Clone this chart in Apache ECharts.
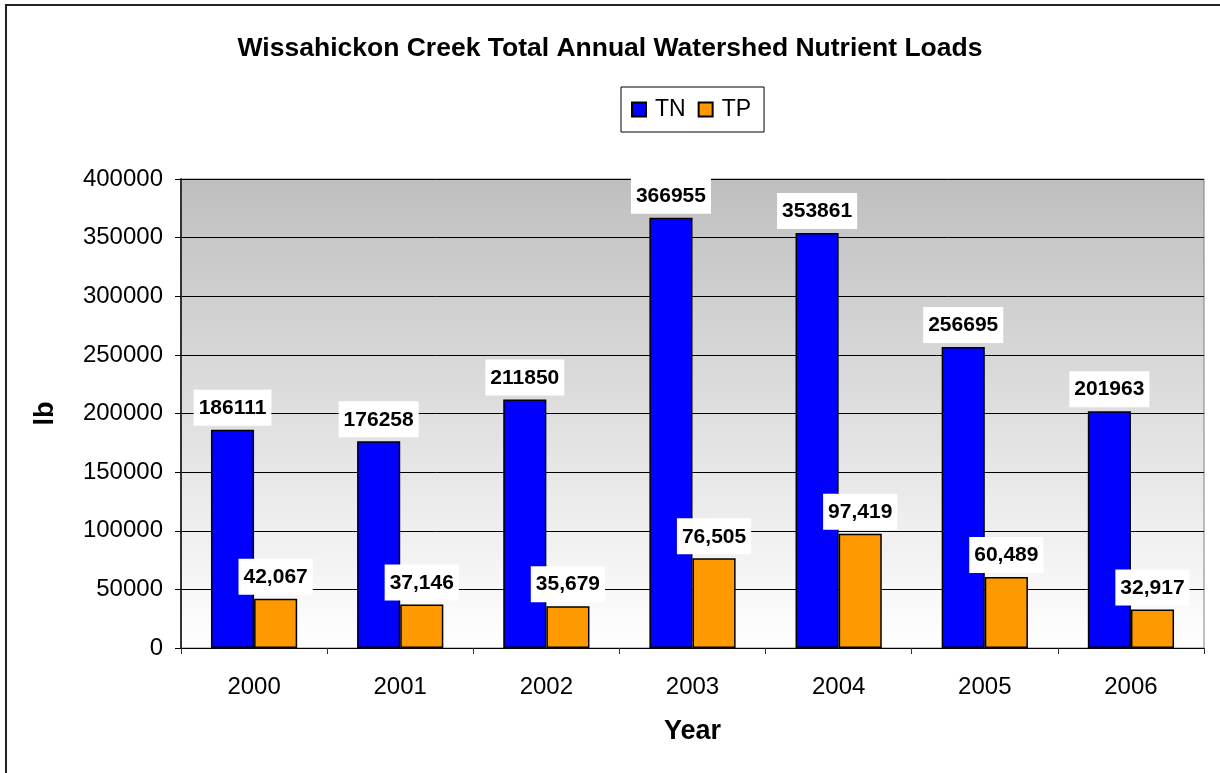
<!DOCTYPE html>
<html>
<head>
<meta charset="utf-8">
<title>Wissahickon Creek Total Annual Watershed Nutrient Loads</title>
<script src="https://cdn.jsdelivr.net/npm/echarts@6/dist/echarts.min.js"></script>
<style>
  html, body { margin: 0; padding: 0; background: #ffffff; }
  #chart { width: 1220px; height: 773px; }
</style>
</head>
<body>
<div id="chart"></div>
<script>
// Annual nutrient loads (lb) for the Wissahickon Creek watershed
const years = ['2000', '2001', '2002', '2003', '2004', '2005', '2006'];
const tnLoads = [186111, 176258, 211850, 366955, 353861, 256695, 201963];
const tpLoads = [42067, 37146, 35679, 76505, 97419, 60489, 32917];
const yTicks = [0, 50000, 100000, 150000, 200000, 250000, 300000, 350000, 400000];

const FONT = 'Liberation Sans, Arial, sans-serif';
const chart = echarts.init(document.getElementById('chart'), null, { renderer: 'canvas' });

const withCommas = v => String(v).replace(/\B(?=(\d{3})+(?!\d))/g, ',');

const labelStyle = {
  show: true,
  position: 'top',
  distance: 4,
  color: '#000',
  fontFamily: FONT,
  fontWeight: 'bold',
  fontSize: 21,
  backgroundColor: '#ffffff',
  padding: [8, 5, 7, 5]
};

chart.setOption({
  animation: false,
  backgroundColor: '#ffffff',
  textStyle: { fontFamily: FONT },
  graphic: [{
    type: 'rect',
    shape: { x: 6, y: 5, width: 1260, height: 820 },
    style: { fill: 'none', stroke: '#222', lineWidth: 2 },
    silent: true,
    z: 100
  }],
  title: {
    text: 'Wissahickon Creek Total Annual Watershed Nutrient Loads',
    left: 'center',
    top: 30,
    textStyle: { fontFamily: FONT, fontWeight: 'bold', fontSize: 26.5, color: '#000' }
  },
  legend: {
    left: 621,
    top: 87,
    orient: 'horizontal',
    icon: 'rect',
    itemWidth: 14,
    itemHeight: 14,
    itemGap: 12,
    padding: [11, 13, 11, 10],
    borderColor: '#000',
    borderWidth: 1,
    backgroundColor: '#ffffff',
    textStyle: { fontFamily: FONT, fontSize: 23, color: '#000', padding: [0, 0, 0, 4] },
    data: ['TN', 'TP']
  },
  grid: {
    left: 181,
    right: 16,
    top: 179,
    bottom: 125,
    show: true,
    borderColor: '#808080',
    borderWidth: 1,
    backgroundColor: new echarts.graphic.LinearGradient(0, 0, 0, 1, [
      { offset: 0, color: '#bfbfbf' },
      { offset: 1, color: '#ffffff' }
    ])
  },
  xAxis: {
    type: 'category',
    data: years,
    name: 'Year',
    nameLocation: 'middle',
    nameGap: 70,
    nameTextStyle: { fontFamily: FONT, fontWeight: 'bold', fontSize: 27, color: '#000' },
    axisLine: { lineStyle: { color: '#000', width: 1 } },
    axisTick: { show: true, length: 6, lineStyle: { color: '#333' } },
    axisLabel: { fontFamily: FONT, fontSize: 24, color: '#000', margin: 27 },
    splitLine: { show: false }
  },
  yAxis: {
    type: 'value',
    min: yTicks[0],
    max: yTicks[yTicks.length - 1],
    interval: yTicks[1] - yTicks[0],
    name: 'lb',
    nameLocation: 'middle',
    nameRotate: 90,
    nameGap: 122,
    nameTextStyle: { fontFamily: FONT, fontWeight: 'bold', fontSize: 27, color: '#000' },
    axisLine: { show: true, lineStyle: { color: '#333', width: 2 } },
    axisTick: { show: true, length: 6, lineStyle: { color: '#000' } },
    axisLabel: { fontFamily: FONT, fontSize: 24, color: '#000', margin: 18, formatter: v => String(v) },
    splitLine: { show: true, lineStyle: { color: '#000', width: 1 } }
  },
  series: [
    {
      name: 'TN',
      type: 'bar',
      data: tnLoads,
      barGap: '0%',
      barCategoryGap: '41%',
      itemStyle: { color: '#0000ff', borderColor: '#000', borderWidth: 1.5 },
      label: Object.assign({}, labelStyle, { formatter: p => String(p.value) })
    },
    {
      name: 'TP',
      type: 'bar',
      data: tpLoads,
      barGap: '0%',
      barCategoryGap: '41%',
      itemStyle: { color: '#ff9900', borderColor: '#000', borderWidth: 1.5 },
      label: Object.assign({}, labelStyle, { formatter: p => withCommas(p.value) })
    }
  ]
});
</script>
</body>
</html>
